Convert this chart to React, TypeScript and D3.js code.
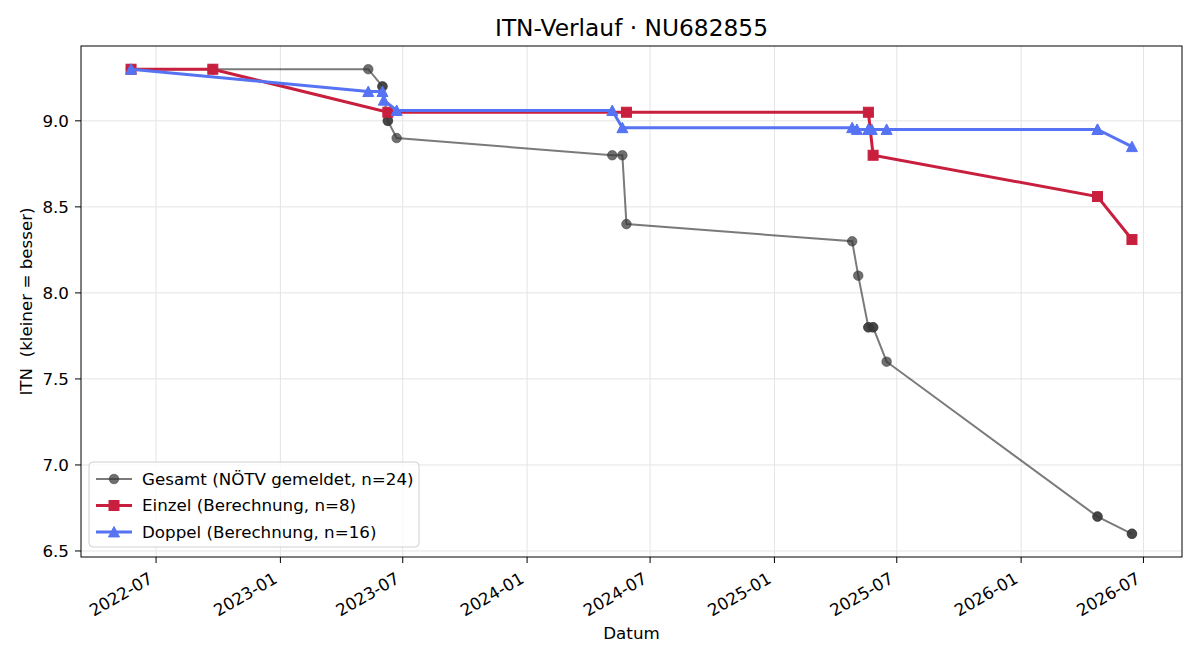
import * as d3 from 'd3';

// Gesamt: reported ITN values (several entries share a date)
const gesamtDates = [
  '2022-05-25', '2022-05-25', '2022-09-23', '2022-09-23', '2023-05-11', '2023-06-01',
  '2023-06-01', '2023-06-09', '2023-06-09', '2023-06-22', '2024-05-06', '2024-05-21',
  '2024-05-27', '2025-04-26', '2025-05-05', '2025-05-20', '2025-05-20', '2025-05-27',
  '2025-05-27', '2025-06-16', '2026-04-24', '2026-04-24', '2026-06-14', '2026-06-14',
];
const gesamtValues = [
  9.3, 9.3, 9.3, 9.3, 9.3, 9.2, 9.2, 9.0, 9.0, 8.9, 8.8, 8.8,
  8.4, 8.3, 8.1, 7.8, 7.8, 7.8, 7.8, 7.6, 6.7, 6.7, 6.6, 6.6,
];

// Einzel: computed singles ITN
const einzelDates = [
  '2022-05-25', '2022-09-23', '2023-06-09', '2024-05-27',
  '2025-05-20', '2025-05-27', '2026-04-24', '2026-06-14',
];
const einzelValues = [9.3, 9.3, 9.05, 9.05, 9.05, 8.8, 8.56, 8.31];

// Doppel: computed doubles ITN
const doppelDates = [
  '2022-05-25', '2023-05-11', '2023-06-01', '2023-06-03', '2023-06-22', '2024-05-06',
  '2024-05-21', '2025-04-26', '2025-05-03', '2025-05-20', '2025-05-20', '2025-05-25',
  '2025-06-16', '2026-04-24', '2026-04-24', '2026-06-14',
];
const doppelValues = [
  9.3, 9.17, 9.17, 9.12, 9.06, 9.06, 8.96, 8.96, 8.95, 8.95, 8.95, 8.95,
  8.95, 8.95, 8.95, 8.85,
];

const yTicks = [6.5, 7.0, 7.5, 8.0, 8.5, 9.0];

const legendLabels = [
  'Gesamt (NÖTV gemeldet, n=24)',
  'Einzel (Berechnung, n=8)',
  'Doppel (Berechnung, n=16)',
];

type Pt = { d: Date; v: number };
const parse = d3.timeParse('%Y-%m-%d');
const zip = (ds: string[], vs: number[]): Pt[] => ds.map((s, i) => ({ d: parse(s) as Date, v: vs[i] }));

const gesamt = zip(gesamtDates, gesamtValues);
const einzel = zip(einzelDates, einzelValues);
const doppel = zip(doppelDates, doppelValues);

const W = 1200;
const H = 660;
const m = { left: 81, right: 1182, top: 46, bottom: 557 };
const FONT = '"DejaVu Sans", Verdana, sans-serif';

const RED = '#c91f3e';
const BLUE = '#5573f3';
const DOT = '#383838';

export default function App() {
  const all = [...gesamt, ...einzel, ...doppel];
  const [t0, t1] = d3.extent(all, p => p.d.getTime()) as [number, number];
  const tPad = (t1 - t0) * 0.05;
  const x = d3.scaleTime()
    .domain([new Date(t0 - tPad), new Date(t1 + tPad)])
    .range([m.left, m.right]);

  const [v0, v1] = d3.extent(all, p => p.v) as [number, number];
  const vPad = (v1 - v0) * 0.05;
  const y = d3.scaleLinear()
    .domain([v0 - vPad, v1 + vPad])
    .range([m.bottom, m.top]);

  const xTicks = x.ticks(d3.timeMonth.every(6) as d3.TimeInterval);
  const fmtX = d3.timeFormat('%Y-%m');

  const line = d3.line<Pt>().x(p => x(p.d)).y(p => y(p.v));

  const tri = (cx: number, cy: number, s = 5.5) =>
    `M${cx},${cy - s}L${cx + s},${cy + s * 0.9}L${cx - s},${cy + s * 0.9}Z`;

  const grid = '#e4e4e4';
  const lx = 96;
  const rowY = [479, 505.5, 532];

  return (
    <svg width={W} height={H} style={{ position: 'absolute', left: 0, top: 0, background: '#fff' }}
      fontFamily={FONT}>
      <rect x={0} y={0} width={W} height={H} fill="#fff" />

      {/* grid */}
      {xTicks.map(t => (
        <line key={'gx' + t.getTime()} x1={x(t)} x2={x(t)} y1={m.top} y2={m.bottom} stroke={grid} strokeWidth={1} />
      ))}
      {yTicks.map(t => (
        <line key={'gy' + t} x1={m.left} x2={m.right} y1={y(t)} y2={y(t)} stroke={grid} strokeWidth={1} />
      ))}

      {/* Gesamt */}
      <path d={line(gesamt) ?? ''} fill="none" stroke="#000" strokeOpacity={0.52} strokeWidth={2} />
      {gesamt.map((p, i) => (
        <circle key={'g' + i} cx={x(p.d)} cy={y(p.v)} r={4.8} fill={DOT} fillOpacity={0.72}
          stroke={DOT} strokeOpacity={0.5} strokeWidth={1} />
      ))}

      {/* Einzel */}
      <path d={line(einzel) ?? ''} fill="none" stroke={RED} strokeWidth={3} />
      {einzel.map((p, i) => (
        <rect key={'e' + i} x={x(p.d) - 5} y={y(p.v) - 5} width={10} height={10} fill={RED}
          stroke={RED} strokeWidth={1} />
      ))}

      {/* Doppel */}
      <path d={line(doppel) ?? ''} fill="none" stroke={BLUE} strokeWidth={3} />
      {doppel.map((p, i) => (
        <path key={'d' + i} d={tri(x(p.d), y(p.v))} fill={BLUE} stroke={BLUE} strokeWidth={1} />
      ))}

      {/* frame */}
      <rect x={m.left} y={m.top} width={m.right - m.left} height={m.bottom - m.top} fill="none"
        stroke="#000" strokeWidth={1} />

      {/* x axis */}
      {xTicks.map(t => (
        <g key={'xt' + t.getTime()}>
          <line x1={x(t)} x2={x(t)} y1={m.bottom} y2={m.bottom + 6} stroke="#000" />
          <text transform={`translate(${x(t) - 2},${582}) rotate(-30)`} textAnchor="end" fontSize={16.7}
            fill="#000">{fmtX(t)}</text>
        </g>
      ))}
      <text x={(m.left + m.right) / 2} y={639} textAnchor="middle" fontSize={16.7}>Datum</text>

      {/* y axis */}
      {yTicks.map(t => (
        <g key={'yt' + t}>
          <line x1={m.left - 6} x2={m.left} y1={y(t)} y2={y(t)} stroke="#000" />
          <text x={m.left - 12} y={y(t)} dy="0.35em" textAnchor="end" fontSize={16.7}>{t.toFixed(1)}</text>
        </g>
      ))}
      <text transform={`translate(32,${(m.top + m.bottom) / 2}) rotate(-90)`} textAnchor="middle"
        fontSize={16.7} style={{ whiteSpace: 'pre' }}>{'ITN  (kleiner = besser)'}</text>

      {/* title */}
      <text x={(m.left + m.right) / 2} y={36} textAnchor="middle" fontSize={23.3}>ITN-Verlauf · NU682855</text>

      {/* legend */}
      <rect x={89} y={462} width={330} height={85} rx={4} fill="#fff" fillOpacity={0.8}
        stroke="#d0d0d0" strokeWidth={1} />
      <line x1={lx} x2={lx + 36} y1={rowY[0]} y2={rowY[0]} stroke="#000" strokeOpacity={0.52} strokeWidth={2} />
      <circle cx={lx + 18} cy={rowY[0]} r={4.8} fill={DOT} fillOpacity={0.72} stroke={DOT} strokeOpacity={0.5} />
      <line x1={lx} x2={lx + 36} y1={rowY[1]} y2={rowY[1]} stroke={RED} strokeWidth={3} />
      <rect x={lx + 13} y={rowY[1] - 5} width={10} height={10} fill={RED} stroke={RED} />
      <line x1={lx} x2={lx + 36} y1={rowY[2]} y2={rowY[2]} stroke={BLUE} strokeWidth={3} />
      <path d={tri(lx + 18, rowY[2])} fill={BLUE} stroke={BLUE} />
      {legendLabels.map((s, i) => (
        <text key={s} x={142} y={rowY[i]} dy="0.35em" fontSize={16.7}>{s}</text>
      ))}
    </svg>
  );
}
